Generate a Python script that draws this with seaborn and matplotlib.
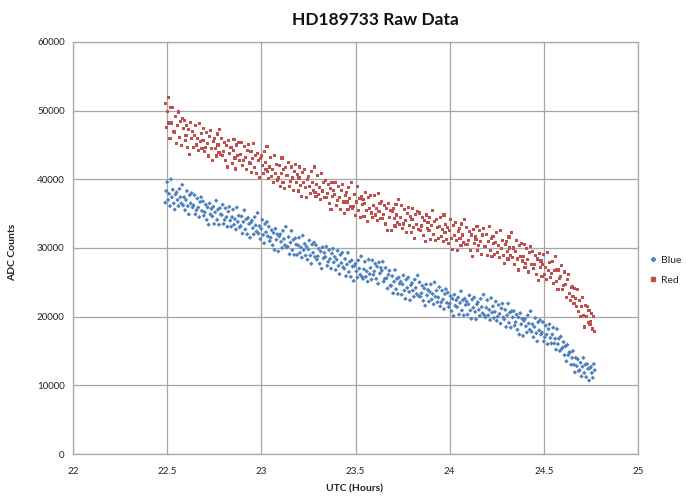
import matplotlib
matplotlib.use("Agg")
import matplotlib.pyplot as plt
from matplotlib.lines import Line2D
import seaborn as sns
import pandas as pd

utc_hours = [
    22.490, 22.495, 22.500, 22.505, 22.510, 22.515, 22.520, 22.525, 22.530, 22.535,
    22.540, 22.545, 22.550, 22.555, 22.560, 22.565, 22.570, 22.575, 22.580, 22.585,
    22.590, 22.595, 22.600, 22.605, 22.610, 22.615, 22.620, 22.625, 22.630, 22.635,
    22.640, 22.645, 22.650, 22.655, 22.660, 22.665, 22.670, 22.675, 22.680, 22.685,
    22.690, 22.695, 22.700, 22.705, 22.710, 22.715, 22.720, 22.725, 22.730, 22.735,
    22.740, 22.745, 22.750, 22.755, 22.760, 22.765, 22.770, 22.775, 22.780, 22.785,
    22.790, 22.795, 22.800, 22.805, 22.810, 22.815, 22.820, 22.825, 22.830, 22.835,
    22.840, 22.845, 22.850, 22.855, 22.860, 22.865, 22.870, 22.875, 22.880, 22.885,
    22.890, 22.895, 22.900, 22.905, 22.910, 22.915, 22.920, 22.925, 22.930, 22.935,
    22.940, 22.945, 22.950, 22.955, 22.960, 22.965, 22.970, 22.975, 22.980, 22.985,
    22.990, 22.995, 23.000, 23.005, 23.010, 23.015, 23.020, 23.025, 23.030, 23.035,
    23.040, 23.045, 23.050, 23.055, 23.060, 23.065, 23.070, 23.075, 23.080, 23.085,
    23.090, 23.095, 23.100, 23.105, 23.110, 23.115, 23.120, 23.125, 23.130, 23.135,
    23.140, 23.145, 23.150, 23.155, 23.160, 23.165, 23.170, 23.175, 23.180, 23.185,
    23.190, 23.195, 23.200, 23.205, 23.210, 23.215, 23.220, 23.225, 23.230, 23.235,
    23.240, 23.245, 23.250, 23.255, 23.260, 23.265, 23.270, 23.275, 23.280, 23.285,
    23.290, 23.295, 23.300, 23.305, 23.310, 23.315, 23.320, 23.325, 23.330, 23.335,
    23.340, 23.345, 23.350, 23.355, 23.360, 23.365, 23.370, 23.375, 23.380, 23.385,
    23.390, 23.395, 23.400, 23.405, 23.410, 23.415, 23.420, 23.425, 23.430, 23.435,
    23.440, 23.445, 23.450, 23.455, 23.460, 23.465, 23.470, 23.475, 23.480, 23.485,
    23.490, 23.495, 23.500, 23.505, 23.510, 23.515, 23.520, 23.525, 23.530, 23.535,
    23.540, 23.545, 23.550, 23.555, 23.560, 23.565, 23.570, 23.575, 23.580, 23.585,
    23.590, 23.595, 23.600, 23.605, 23.610, 23.615, 23.620, 23.625, 23.630, 23.635,
    23.640, 23.645, 23.650, 23.655, 23.660, 23.665, 23.670, 23.675, 23.680, 23.685,
    23.690, 23.695, 23.700, 23.705, 23.710, 23.715, 23.720, 23.725, 23.730, 23.735,
    23.740, 23.745, 23.750, 23.755, 23.760, 23.765, 23.770, 23.775, 23.780, 23.785,
    23.790, 23.795, 23.800, 23.805, 23.810, 23.815, 23.820, 23.825, 23.830, 23.835,
    23.840, 23.845, 23.850, 23.855, 23.860, 23.865, 23.870, 23.875, 23.880, 23.885,
    23.890, 23.895, 23.900, 23.905, 23.910, 23.915, 23.920, 23.925, 23.930, 23.935,
    23.940, 23.945, 23.950, 23.955, 23.960, 23.965, 23.970, 23.975, 23.980, 23.985,
    23.990, 23.995, 24.000, 24.005, 24.010, 24.015, 24.020, 24.025, 24.030, 24.035,
    24.040, 24.045, 24.050, 24.055, 24.060, 24.065, 24.070, 24.075, 24.080, 24.085,
    24.090, 24.095, 24.100, 24.105, 24.110, 24.115, 24.120, 24.125, 24.130, 24.135,
    24.140, 24.145, 24.150, 24.155, 24.160, 24.165, 24.170, 24.175, 24.180, 24.185,
    24.190, 24.195, 24.200, 24.205, 24.210, 24.215, 24.220, 24.225, 24.230, 24.235,
    24.240, 24.245, 24.250, 24.255, 24.260, 24.265, 24.270, 24.275, 24.280, 24.285,
    24.290, 24.295, 24.300, 24.305, 24.310, 24.315, 24.320, 24.325, 24.330, 24.335,
    24.340, 24.345, 24.350, 24.355, 24.360, 24.365, 24.370, 24.375, 24.380, 24.385,
    24.390, 24.395, 24.400, 24.405, 24.410, 24.415, 24.420, 24.425, 24.430, 24.435,
    24.440, 24.445, 24.450, 24.455, 24.460, 24.465, 24.470, 24.475, 24.480, 24.485,
    24.490, 24.495, 24.500, 24.505, 24.510, 24.515, 24.520, 24.525, 24.530, 24.535,
    24.540, 24.545, 24.550, 24.555, 24.560, 24.565, 24.570, 24.575, 24.580, 24.585,
    24.590, 24.595, 24.600, 24.605, 24.610, 24.615, 24.620, 24.625, 24.630, 24.635,
    24.640, 24.645, 24.650, 24.655, 24.660, 24.665, 24.670, 24.675, 24.680, 24.685,
    24.690, 24.695, 24.700, 24.705, 24.710, 24.715, 24.720, 24.725, 24.730, 24.735,
    24.740, 24.745, 24.750, 24.755, 24.760, 24.765, 24.770,
]

red_counts = [
    51000, 47600, 49900, 51900, 48200, 45900, 50400, 48200, 50500, 47000,
    46900, 49200, 45200, 47800, 49800, 46100, 48400, 44900, 48800, 47400,
    48600, 45600, 46400, 47900, 44700, 47300, 43600, 48300, 45900, 47000,
    44700, 46400, 47800, 45000, 46000, 44200, 48100, 45500, 46700, 44500,
    45600, 47400, 44000, 44700, 46800, 45200, 43400, 46200, 47100, 44500,
    42800, 45500, 45900, 44500, 43400, 46600, 45000, 43900, 47300, 43600,
    46000, 43500, 44100, 45400, 42700, 44900, 41800, 45700, 43700, 44600,
    44700, 42300, 44200, 45800, 43100, 41500, 45000, 43500, 45400, 42800,
    43600, 45400, 42000, 42700, 44800, 43200, 41400, 44200, 45100, 42500,
    42300, 44100, 41000, 43000, 45200, 41700, 43500, 40800, 43800, 42700,
    40300, 43000, 43400, 42000, 40900, 44100, 42500, 41400, 44800, 41100,
    40100, 41800, 43200, 40400, 41400, 39600, 43500, 40900, 42100, 39900,
    40200, 42000, 38900, 40900, 43100, 39600, 41400, 38700, 41700, 40600,
    40600, 42400, 39000, 39700, 41800, 40200, 38400, 41200, 42100, 39500,
    40700, 38300, 40200, 41800, 39100, 37500, 41000, 39500, 41400, 38800,
    37300, 40000, 40400, 39000, 37900, 41100, 39500, 38400, 41800, 38100,
    37500, 39200, 40600, 37800, 38800, 37000, 40900, 38300, 39500, 37300,
    39800, 37300, 37900, 39200, 36500, 38700, 35600, 39500, 37500, 38400,
    37800, 39600, 36200, 36900, 39000, 37400, 35600, 38400, 39300, 36700,
    35000, 37700, 38100, 36700, 35600, 38800, 37200, 36100, 39500, 35800,
    36000, 37800, 34700, 36700, 38900, 35400, 37200, 34500, 37500, 36400,
    37000, 34600, 36500, 38100, 35400, 33800, 37300, 35800, 37700, 35100,
    34500, 36200, 37600, 34800, 35800, 34000, 37900, 35300, 36500, 34300,
    36800, 34300, 34900, 36200, 33500, 35700, 32600, 36500, 34500, 35400,
    32600, 35300, 35700, 34300, 33200, 36400, 34800, 33700, 37100, 33400,
    34400, 36200, 32800, 33500, 35600, 34000, 32200, 35000, 35900, 33300,
    34600, 32200, 34100, 35700, 33000, 31400, 34900, 33400, 35300, 32700,
    35100, 32600, 33200, 34500, 31800, 34000, 30900, 34800, 32800, 33700,
    32600, 34400, 31300, 33300, 35500, 32000, 33800, 31100, 34100, 33000,
    31400, 33100, 34500, 31700, 32700, 30900, 34800, 32200, 33400, 31200,
    33000, 30600, 32500, 34100, 31400, 29800, 33300, 31800, 33700, 31100,
    29700, 32400, 32800, 31400, 30300, 33500, 31900, 30800, 34200, 30500,
    33000, 30500, 31100, 32400, 29700, 31900, 28800, 32700, 30700, 31600,
    31300, 33100, 29700, 30400, 32500, 30900, 29100, 31900, 32800, 30200,
    30200, 32000, 28900, 30900, 33100, 29600, 31400, 28700, 31700, 30600,
    29100, 30800, 32200, 29400, 30400, 28600, 32500, 29900, 31100, 28900,
    27800, 30500, 30900, 29500, 28400, 31600, 30000, 28900, 32300, 28600,
    30000, 27600, 29500, 31100, 28400, 26800, 30300, 28800, 30700, 28100,
    28700, 30500, 27100, 27800, 29900, 28300, 26500, 29300, 30200, 27600,
    29500, 27000, 27600, 28900, 26200, 28400, 25300, 29200, 27200, 28100,
    25900, 27600, 29000, 26200, 27200, 25400, 29300, 26700, 27900, 25700,
    26300, 28000, 24800, 26700, 28700, 25100, 26800, 23900, 26800, 25600,
    25900, 27500, 24000, 24500, 26500, 24700, 22800, 25400, 26200, 23400,
    22400, 24300, 24400, 23000, 21900, 24100, 22700, 21500, 24000, 20800,
    22300, 20000, 21500, 22800, 20200, 18500, 21600, 20000, 21500, 19100,
    20900, 18900, 19300, 20400, 18200, 20000, 17900,
]

blue_counts = [
    36600, 38300, 39600, 37000, 37900, 36100, 40000, 37400, 38500, 36500,
    35600, 37800, 38100, 37000, 36100, 38600, 37400, 36500, 39200, 36200,
    37400, 35500, 37000, 38300, 36100, 34900, 37700, 36500, 38000, 35900,
    36200, 37700, 34900, 35500, 37200, 35900, 34500, 36700, 37400, 35400,
    36800, 34700, 35200, 36300, 34100, 35900, 33400, 36500, 34900, 35700,
    34600, 36000, 33500, 35200, 36900, 34100, 35600, 33400, 35800, 34900,
    34800, 36300, 33500, 34100, 35800, 34500, 33100, 35300, 36000, 34000,
    33100, 34500, 35600, 33400, 34200, 32700, 35900, 33800, 34700, 33000,
    33200, 34600, 32100, 33800, 35500, 32700, 34200, 32000, 34400, 33500,
    31500, 33700, 34000, 32900, 32000, 34500, 33300, 32400, 35100, 32100,
    33200, 31300, 32800, 34100, 31900, 30700, 33500, 32300, 33800, 31700,
    33100, 31000, 31500, 32600, 30400, 32200, 29700, 32800, 31200, 32000,
    29500, 31700, 32000, 30900, 30000, 32500, 31300, 30400, 33100, 30100,
    30200, 31600, 29100, 30800, 32500, 29700, 31200, 29000, 31400, 30500,
    29000, 30400, 31500, 29300, 30100, 28600, 31800, 29700, 30600, 28900,
    30200, 28300, 29800, 31100, 28900, 27700, 30500, 29300, 30800, 28700,
    30400, 28300, 28800, 29900, 27700, 29500, 27000, 30100, 28500, 29300,
    28700, 30200, 27400, 28000, 29700, 28400, 27000, 29200, 29900, 27900,
    28700, 26800, 28300, 29600, 27400, 26200, 29000, 27800, 29300, 27200,
    27000, 28400, 25900, 27600, 29300, 26500, 28000, 25800, 28200, 27300,
    25200, 27400, 27700, 26600, 25700, 28200, 27000, 26100, 28800, 25800,
    25500, 26900, 28000, 25800, 26600, 25100, 28300, 26200, 27100, 25400,
    28200, 26100, 26600, 27700, 25500, 27300, 24800, 27900, 26300, 27100,
    26700, 28000, 25100, 25500, 27100, 25600, 24100, 26100, 26700, 24500,
    24500, 25900, 23400, 25100, 26800, 24000, 25500, 23300, 25700, 24800,
    25100, 23200, 24700, 26000, 23800, 22600, 25400, 24200, 25700, 23600,
    22400, 24600, 24900, 23800, 22900, 25400, 24200, 23300, 26000, 23000,
    25000, 22900, 23400, 24500, 22300, 24100, 21600, 24700, 23100, 23900,
    22200, 23600, 24700, 22500, 23300, 21800, 25000, 22900, 23800, 22100,
    22800, 24300, 21500, 22100, 23800, 22500, 21100, 23300, 24000, 22000,
    23500, 21400, 21900, 23000, 20800, 22600, 20100, 23200, 21600, 22400,
    21400, 22800, 20300, 22000, 23700, 20900, 22400, 20200, 22600, 21700,
    22200, 20300, 21800, 23100, 20900, 19700, 22500, 21300, 22800, 20700,
    19600, 21800, 22100, 21000, 20100, 22600, 21400, 20500, 23200, 20200,
    19900, 21300, 22400, 20200, 21000, 19500, 22700, 20600, 21500, 19800,
    20700, 22200, 19400, 20000, 21700, 20400, 19000, 21200, 21900, 19900,
    19600, 21000, 18500, 20200, 21900, 19100, 20600, 18400, 20800, 19900,
    20800, 18700, 19200, 20300, 18100, 19900, 17400, 20500, 18900, 19700,
    17200, 19400, 19700, 18600, 17700, 20200, 19000, 18100, 20800, 17800,
    18900, 17000, 18500, 19800, 17600, 16400, 19200, 18000, 19500, 17400,
    17700, 19200, 16400, 17000, 18700, 17400, 16000, 18200, 18900, 16900,
    16100, 17400, 18400, 16100, 16800, 15200, 18200, 16000, 16800, 15000,
    17100, 15300, 15500, 16300, 14400, 15700, 13500, 15900, 14400, 14800,
    14800, 13000, 14000, 15000, 13000, 11900, 14000, 12800, 13800, 12100,
    12200, 13300, 11300, 12700, 14000, 11800, 13000, 11200, 13100, 12400,
    10700, 12500, 12700, 11800, 11100, 13100, 12200,
]

series_names = ["Blue", "Red"]
series_colors = ["#4F81BD", "#C0504D"]
x_ticks = [22, 22.5, 23, 23.5, 24, 24.5, 25]
y_ticks = [0, 10000, 20000, 30000, 40000, 50000, 60000]

df = pd.DataFrame({
    "UTC": utc_hours * 2,
    "Counts": blue_counts + red_counts,
    "Series": [series_names[0]] * len(blue_counts) + [series_names[1]] * len(red_counts),
})

sns.set_theme(style="white")
plt.rcParams["font.family"] = ["Lato", "DejaVu Sans"]

W, H = 686, 496
L, R, T, B = 73, 638, 42, 454
fig = plt.figure(figsize=(W / 100, H / 100), dpi=100)
ax = fig.add_axes([L / W, 1 - B / H, (R - L) / W, (B - T) / H])

sns.scatterplot(
    data=df, x="UTC", y="Counts", hue="Series", style="Series",
    palette=dict(zip(series_names, series_colors)),
    markers={"Blue": "D", "Red": "s"},
    s=5, linewidth=0, ax=ax, legend=False, zorder=3,
)

ax.set_xlim(22, 25)
ax.set_ylim(0, 60000)
ax.set_xticks(x_ticks)
ax.set_xticklabels([f"{t:g}" for t in x_ticks])
ax.set_yticks(y_ticks)
ax.set_yticklabels([str(v) for v in y_ticks])
ax.tick_params(axis="both", length=0, labelsize=7, colors="#222222")
ax.tick_params(axis="x", pad=9)
ax.tick_params(axis="y", pad=6)
ax.grid(True, color="#A6A6A6", linewidth=0.9)
ax.set_axisbelow(True)
for sp in ax.spines.values():
    sp.set_color("#A6A6A6")
    sp.set_linewidth(0.9)
ax.set_xlabel("")
ax.set_ylabel("")

fig.text(375 / W, 1 - 20 / H, "HD189733 Raw Data", ha="center", va="center",
         fontsize=12.5, fontweight="bold", color="#111111")
fig.text(355 / W, 1 - 489 / H, "UTC (Hours)", ha="center", va="center",
         fontsize=7.5, fontweight="bold", color="#222222")
fig.text(13 / W, 1 - 252 / H, "ADC Counts", ha="center", va="center",
         rotation=90, fontsize=7.5, fontweight="bold", color="#222222")

handles = [
    Line2D([], [], linestyle="", marker="D", markersize=2.2, color=series_colors[0]),
    Line2D([], [], linestyle="", marker="s", markersize=2.2, color=series_colors[1]),
]
fig.legend(handles, series_names, loc="center left",
           bbox_to_anchor=(650 / W, 1 - 270 / H), frameon=False,
           fontsize=7.5, handlelength=0.6, handletextpad=0.45,
           labelspacing=1.05, borderaxespad=0, borderpad=0)

fig.savefig("out.png", dpi=100, facecolor="white")
